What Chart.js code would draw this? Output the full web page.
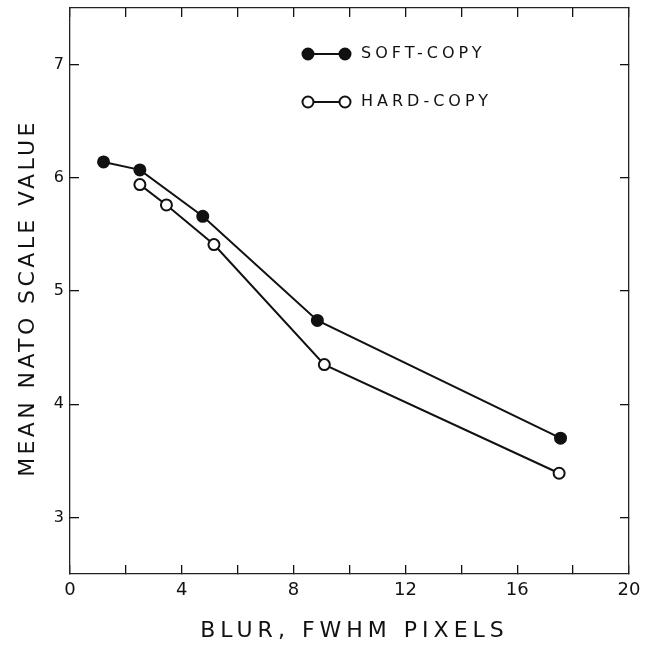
<!DOCTYPE html>
<html lang="en">
<head>
  <meta charset="UTF-8" />
  <title>Mean NATO scale value vs blur</title>
  <script src="https://cdn.jsdelivr.net/npm/chart.js"></script>
  <style>
    body {
      margin: 0;
      padding: 0;
      background: white;
    }
    canvas {
      display: block;
    }
  </style>
</head>
<body>
  <canvas id="grafico" width="647" height="646"></canvas>

  <script>
    // data
    const softX = [1.2, 2.5, 4.75, 8.85, 17.55];
    const softY = [6.14, 6.07, 5.66, 4.74, 3.70];
    const hardX = [2.5, 3.45, 5.15, 9.1, 17.5];
    const hardY = [5.94, 5.76, 5.41, 4.35, 3.39];
    const yTicks = [3, 4, 5, 6, 7];
    const xTicks = [0, 2, 4, 6, 8, 10, 12, 14, 16, 18, 20];
    const seriesNames = ['SOFT-COPY', 'HARD-COPY'];
    const xTitle = 'BLUR, FWHM PIXELS';
    const yTitle = 'MEAN NATO SCALE VALUE';

    const fonte = 'DejaVu Sans, sans-serif';
    const tinta = '#111';

    function pares(xs, ys) {
      return xs.map((x, i) => ({ x: x, y: ys[i] }));
    }

    // axis titles and the legend need letter spacing, so they are drawn by hand
    const textos = {
      id: 'textos',
      afterDraw(chart) {
        const ctx = chart.ctx;
        const area = chart.chartArea;
        ctx.save();
        ctx.fillStyle = tinta;
        ctx.font = '22px ' + fonte;
        ctx.letterSpacing = '5px';
        ctx.textAlign = 'center';
        ctx.textBaseline = 'alphabetic';
        ctx.fillText(xTitle, (area.left + area.right) / 2 + 5, 637);

        ctx.letterSpacing = '3.4px';
        ctx.translate(34, 298);
        ctx.rotate(-Math.PI / 2);
        ctx.fillText(yTitle, 0, 0);
        ctx.restore();

        // legend: marker - line - marker, then the name
        ctx.save();
        const linhas = [54, 102];
        chart.data.datasets.forEach((ds, i) => {
          const y = linhas[i];
          ctx.strokeStyle = tinta;
          ctx.lineWidth = 2;
          ctx.beginPath();
          ctx.moveTo(308, y);
          ctx.lineTo(345, y);
          ctx.stroke();
          [308, 345].forEach(x => {
            ctx.beginPath();
            ctx.arc(x, y, ds.pointRadius, 0, Math.PI * 2);
            ctx.fillStyle = ds.pointBackgroundColor;
            ctx.fill();
            ctx.lineWidth = ds.pointBorderWidth;
            ctx.stroke();
          });
          ctx.fillStyle = tinta;
          ctx.font = '16px ' + fonte;
          ctx.letterSpacing = '4px';
          ctx.textAlign = 'left';
          ctx.textBaseline = 'middle';
          ctx.fillText(seriesNames[i], 361, y);
        });
        ctx.restore();
      }
    };

    function semPadding(s) {
      s.paddingLeft = 0;
      s.paddingRight = 0;
      s.paddingTop = 0;
      s.paddingBottom = 0;
    }

    function eixo(posicao, valores, tamanho, extra) {
      return Object.assign({
        type: 'linear',
        position: posicao,
        border: { display: true, color: '#222', width: 1.3 },
        grid: { drawOnChartArea: false, drawTicks: true, tickLength: -9, color: tinta, lineWidth: 1.3 },
        afterBuildTicks: s => { s.ticks = valores.map(v => ({ value: v })); },
        afterFit: s => {
          if (s.isHorizontal()) s.height = tamanho; else s.width = tamanho;
          semPadding(s);
        }
      }, extra);
    }

    new Chart(document.getElementById('grafico').getContext('2d'), {
      type: 'line',
      data: {
        datasets: [
          {
            label: seriesNames[0],
            data: pares(softX, softY),
            borderColor: tinta,
            borderWidth: 2,
            pointRadius: 5.5,
            pointBorderWidth: 2,
            pointBackgroundColor: tinta,
            pointBorderColor: tinta,
            tension: 0
          },
          {
            label: seriesNames[1],
            data: pares(hardX, hardY),
            borderColor: tinta,
            borderWidth: 2,
            pointRadius: 5.5,
            pointBorderWidth: 2,
            pointBackgroundColor: '#ffffff',
            pointBorderColor: tinta,
            tension: 0
          }
        ]
      },
      options: {
        responsive: false,
        animation: false,
        layout: { padding: 0 },
        plugins: {
          legend: { display: false },
          tooltip: { enabled: false }
        },
        scales: {
          x: eixo('bottom', xTicks, 72, {
            min: 0,
            max: 20,
            ticks: {
              padding: 15,
              maxRotation: 0,
              autoSkip: false,
              color: tinta,
              font: { family: fonte, size: 18 },
              callback: v => (v % 4 === 0 ? String(v) : '')
            }
          }),
          x2: eixo('top', xTicks, 8, {
            min: 0,
            max: 20,
            ticks: { display: false }
          }),
          y: eixo('left', yTicks, 70, {
            min: 2.5,
            max: 7.5,
            ticks: {
              padding: 15,
              color: tinta,
              font: { family: fonte, size: 16 }
            }
          }),
          y2: eixo('right', yTicks, 18, {
            min: 2.5,
            max: 7.5,
            ticks: { display: false }
          })
        }
      },
      plugins: [textos]
    });
  </script>
</body>
</html>
